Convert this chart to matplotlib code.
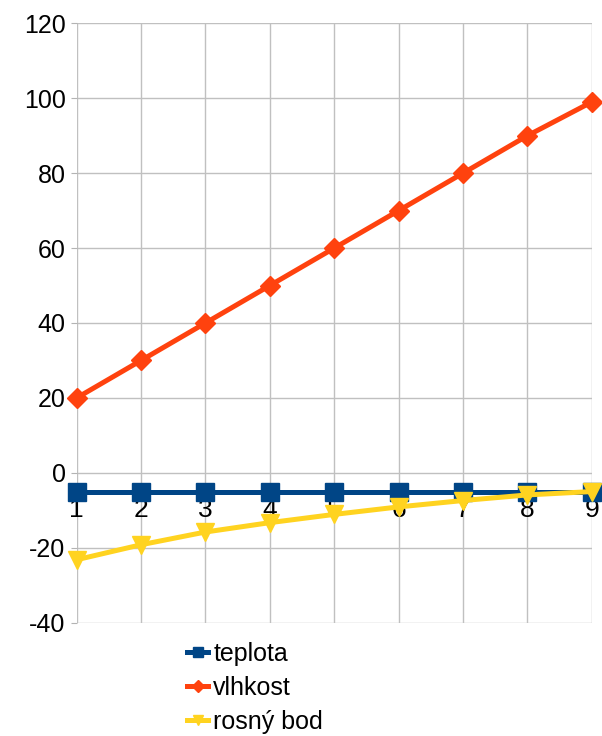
import numpy as np
import matplotlib.pyplot as plt
from matplotlib.ticker import MultipleLocator

kategorie = [1, 2, 3, 4, 5, 6, 7, 8, 9]
teplota = [-5, -5, -5, -5, -5, -5, -5, -5, -5]
vlhkost = [20, 30, 40, 50, 60, 70, 80, 90, 99]
rosny_bod = [-23.2, -19.2, -15.8, -13.3, -11.1, -9.1, -7.4, -5.9, -5.0]

plt.rcParams['font.family'] = ['Liberation Sans', 'DejaVu Sans']
plt.rcParams['axes.unicode_minus'] = False

fig = plt.figure(figsize=(6.02, 7.36), dpi=100)
ax = fig.add_axes([0.1274, 0.154, 0.8556, 0.8143])

ax.plot(kategorie, teplota, color='#004586', lw=3.6, marker='s', ms=13,
        label='teplota', clip_on=False, zorder=3)
ax.plot(kategorie, vlhkost, color='#ff420e', lw=3.6, marker='D', ms=10,
        label='vlhkost', clip_on=False, zorder=4)
ax.plot(kategorie, rosny_bod, color='#ffd320', lw=3.6, marker='v', ms=13,
        label='rosný bod', clip_on=False, zorder=5)

ax.set_xlim(1, 9)
ax.set_ylim(-40, 120)
ax.yaxis.set_major_locator(MultipleLocator(20))
ax.set_xticks(kategorie)
ax.set_xticklabels([str(k) for k in kategorie])

for s in ['top', 'right', 'left']:
    ax.spines[s].set_visible(False)
ax.spines['bottom'].set_position(('data', 0))
ax.spines['bottom'].set_visible(False)

ax.grid(True, color='#c0c0c0', lw=1)
ax.set_axisbelow(True)
ax.tick_params(axis='x', length=0, pad=18, labelsize=19)
ax.tick_params(axis='y', length=4, color='#b3b3b3', pad=4, labelsize=18)

fig.legend(loc='upper left', bbox_to_anchor=(0.29, 0.145), frameon=False,
           fontsize=18, handlelength=0.85, handletextpad=0.2,
           labelspacing=0.4, borderpad=0, markerscale=0.6)

fig.savefig('out.png', dpi=100)
